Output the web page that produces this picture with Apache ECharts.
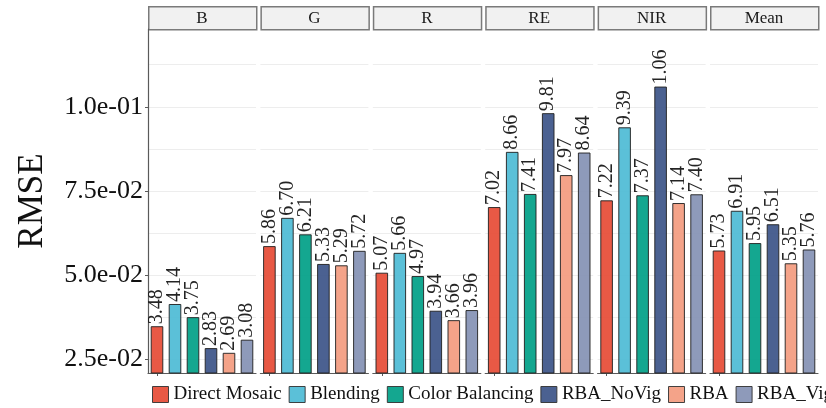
<!DOCTYPE html>
<html>
<head>
<meta charset="utf-8">
<script src="https://cdn.jsdelivr.net/npm/echarts@6/dist/echarts.min.js"></script>
<style>
  html, body { margin: 0; padding: 0; background: #fff; }
  #chart { width: 826px; height: 408px; }
</style>
</head>
<body>
<div id="chart"></div>
<script>
// Facets (bands) and the mosaicking methods compared in each one
const bands = ['B', 'G', 'R', 'RE', 'NIR', 'Mean'];
const methods = ['Direct Mosaic', 'Blending', 'Color Balancing', 'RBA_NoVig', 'RBA', 'RBA_Vig'];
const methodColors = ['#E64B35', '#4DBBD5', '#00A087', '#3C5488', '#F39B7F', '#8491B4'];

// RMSE per band, one value per method (same order as `methods`)
const rmseB    = [0.0348, 0.0414, 0.0375, 0.0283, 0.0269, 0.0308];
const rmseG    = [0.0586, 0.0670, 0.0621, 0.0533, 0.0529, 0.0572];
const rmseR    = [0.0507, 0.0566, 0.0497, 0.0394, 0.0366, 0.0396];
const rmseRE   = [0.0702, 0.0866, 0.0741, 0.0981, 0.0797, 0.0864];
const rmseNIR  = [0.0722, 0.0939, 0.0737, 0.1060, 0.0714, 0.0740];
const rmseMean = [0.0573, 0.0691, 0.0595, 0.0651, 0.0535, 0.0576];
const rmseByBand = [rmseB, rmseG, rmseR, rmseRE, rmseNIR, rmseMean];

// Value axis range and tick positions
const yMin = 0.0209, yMax = 0.1231;
const yLabelTicks = [0.025, 0.05, 0.075, 0.1];
const yGridTicks = [0.025, 0.0375, 0.05, 0.0625, 0.075, 0.0875, 0.1, 0.1125];

// Panel layout (pixels)
const PANEL_LEFT = 148, PANEL_W = 108, PANEL_STEP = 112.4;
const PLOT_TOP = 29, PLOT_BOTTOM = 35, STRIP_TOP = 6, STRIP_H = 23;
const FONT = '"Liberation Serif", "Times New Roman", serif';

function sciLabel(v) {
  const [m, e] = v.toExponential(1).split('e');
  const sign = e[0] === '-' ? '-' : '+';
  const ex = Math.abs(parseInt(e, 10)).toString().padStart(2, '0');
  return m + 'e' + sign + ex;
}
function barLabel(v) {
  return v >= 0.1 ? (v * 10).toFixed(2) : (v * 100).toFixed(2);
}

const grids = [], xAxes = [], yAxes = [], series = [], graphics = [];

bands.forEach((band, i) => {
  const left = PANEL_LEFT + i * PANEL_STEP;
  grids.push({ left: left, width: PANEL_W, top: PLOT_TOP, bottom: PLOT_BOTTOM, containLabel: false });
  xAxes.push({
    type: 'category', gridIndex: i, data: methods, boundaryGap: true,
    axisLine: { show: true, lineStyle: { color: '#5a5a5a', width: 1.2 } },
    axisTick: { show: true, alignWithLabel: true, length: 3, lineStyle: { color: '#5a5a5a', width: 1 } },
    axisLabel: { show: false }, splitLine: { show: false }
  });
  yAxes.push({
    type: 'value', gridIndex: i, min: yMin, max: yMax,
    axisLine: { show: i === 0, lineStyle: { color: '#5a5a5a', width: 1.2 } },
    axisTick: { show: false, customValues: yGridTicks },
    axisLabel: { show: false, customValues: yGridTicks },
    splitLine: { show: true, lineStyle: { color: '#ededed', width: 1 } }
  });

  const values = rmseByBand[i];
  methods.forEach((m, k) => {
    series.push({
      type: 'bar', name: m, xAxisIndex: i, yAxisIndex: i,
      stack: 'band' + i, barWidth: '70%',
      data: values.map((v, j) => (j === k ? v : '-')),
      itemStyle: { color: methodColors[k], borderColor: '#222', borderWidth: 1, opacity: 0.92 },
      label: {
        show: true, position: 'top', rotate: 90, distance: 2,
        align: 'left', verticalAlign: 'middle',
        fontFamily: FONT, fontSize: 20, color: '#111',
        formatter: p => barLabel(p.value)
      },
      emphasis: { disabled: true },
      animation: false
    });
  });

  // facet strip
  graphics.push({
    type: 'rect', left: left, top: STRIP_TOP,
    shape: { width: PANEL_W, height: STRIP_H },
    style: { fill: '#f1f1f1', stroke: '#7a7a7a', lineWidth: 1.5 }
  });
  graphics.push({
    type: 'text', x: left + PANEL_W / 2, y: STRIP_TOP + STRIP_H / 2 + 1,
    style: { text: band, fill: '#1a1a1a', font: '17px ' + FONT, align: 'center', verticalAlign: 'middle' }
  });
});

// Left axis carrying the tick labels and the axis title
yAxes.push({
  type: 'value', gridIndex: 0, min: yMin, max: yMax, position: 'left',
  name: 'RMSE', nameLocation: 'middle', nameGap: 98, nameRotate: 90,
  nameTextStyle: { fontFamily: FONT, fontSize: 35, color: '#111' },
  axisLine: { show: false },
  axisTick: { show: true, length: 3, customValues: yLabelTicks, lineStyle: { color: '#5a5a5a', width: 1 } },
  axisLabel: {
    show: true, customValues: yLabelTicks, margin: 5,
    fontFamily: FONT, fontSize: 26, color: '#111',
    formatter: v => sciLabel(v)
  },
  splitLine: { show: false }
});

const option = {
  backgroundColor: '#ffffff',
  animation: false,
  grid: grids,
  xAxis: xAxes,
  yAxis: yAxes,
  series: series,
  legend: {
    data: methods, left: 152, top: 385, width: 1200, padding: 0,
    itemWidth: 16, itemHeight: 16, itemGap: 7, icon: 'rect',
    itemStyle: { borderColor: '#333', borderWidth: 1 },
    textStyle: { fontFamily: FONT, fontSize: 19, color: '#111' },
    selectedMode: false
  },
  graphic: graphics
};

const chart = echarts.init(document.getElementById('chart'), null, { renderer: 'canvas' });
chart.setOption(option);
</script>
</body>
</html>
